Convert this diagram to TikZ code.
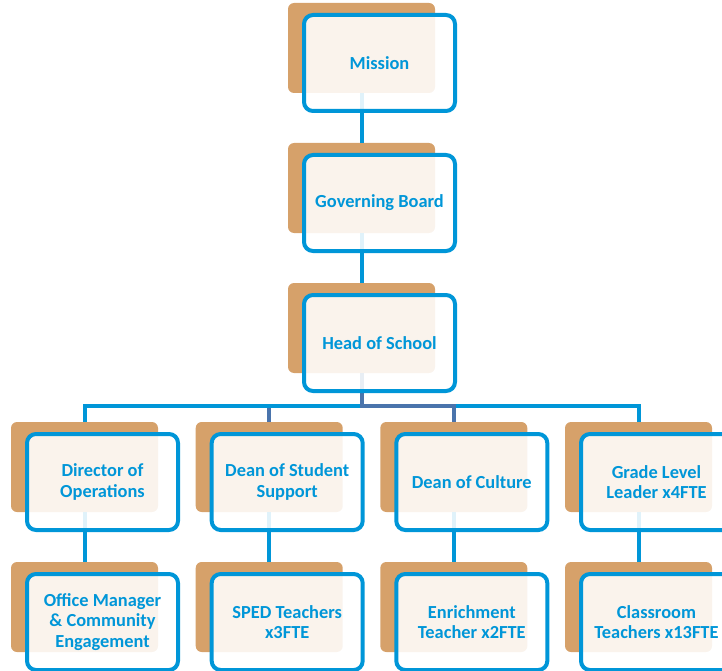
\documentclass[tikz,border=0pt]{standalone}
\usepackage{fontspec}
\setmainfont{Carlito}
\usetikzlibrary{positioning}

\definecolor{orgblue}{RGB}{0,150,216}
\definecolor{orgslate}{RGB}{74,116,172}
\definecolor{orgtan}{RGB}{214,161,106}

\begin{document}
\begin{tikzpicture}[x=1pt,y=-1pt,
  font=\bfseries\fontsize{18.4}{20.5}\selectfont,
  back/.style={fill=orgtan,rounded corners=6pt,inner sep=0pt,
    minimum width=147pt,minimum height=90pt},
  card/.style={draw=orgblue,line width=4pt,fill=white,fill opacity=0.88,
    text opacity=1,text=orgblue,rounded corners=9pt,inner sep=0pt,
    minimum width=151pt,minimum height=96pt,align=center},
  link/.style={line width=4pt,orgblue},
  sublink/.style={line width=4pt,orgslate},
]

\path[use as bounding box,clip] (0,0) rectangle (722,671);

\def\dx{18}
\def\dy{15}

% ------------------------------------------------------------------
% back plates
% ------------------------------------------------------------------
\node[back] (missionbk) at (361.5,48) {};
\node[back] (boardbk)   at (361.5,188) {};
\node[back] (headbk)    at (361.5,328) {};

\node[back] (opsbk)     at (84.5,467) {};
\node[back] (deanssbk)  at (269.2,467) {};
\node[back] (deancbk)   at (453.8,467) {};
\node[back] (gradebk)   at (638.5,467) {};

\node[back] (officebk)  at (84.5,607) {};
\node[back] (spedbk)    at (269.2,607) {};
\node[back] (enrichbk)  at (453.8,607) {};
\node[back] (classbk)   at (638.5,607) {};

% ------------------------------------------------------------------
% connectors
% ------------------------------------------------------------------
\coordinate (bus) at (361.5,405.5);

\draw[link] (missionbk.south) -- (boardbk.north);
\draw[link] (boardbk.south) -- (headbk.north);

\draw[sublink] (headbk.south) |- (bus) -| (deanssbk.north);
\draw[link] (headbk.south) |- (bus) -| (opsbk.north);
\draw[link] (headbk.south) |- (bus) -| (gradebk.north);
\draw[sublink] (headbk.south) |- (bus) -| (deancbk.north);

\draw[link] (opsbk.south) -- (officebk.north);
\draw[link] (deanssbk.south) -- (spedbk.north);
\draw[link] (deancbk.south) -- (enrichbk.north);
\draw[link] (gradebk.south) -- (classbk.north);

% ------------------------------------------------------------------
% cards
% ------------------------------------------------------------------
\node[card] (mission) at ([shift={(\dx,\dy)}]missionbk.center) {Mission};
\node[card] (board)   at ([shift={(\dx,\dy)}]boardbk.center) {Governing Board};
\node[card] (head)    at ([shift={(\dx,\dy)}]headbk.center) {Head of School};

\node[card] (ops)     at ([shift={(\dx,\dy)}]opsbk.center) {Director of\\Operations};
\node[card] (deanss)  at ([shift={(\dx,\dy)}]deanssbk.center) {Dean of Student\\Support};
\node[card] (deanc)   at ([shift={(\dx,\dy)}]deancbk.center) {Dean of Culture};
\node[card] (grade)   at ([shift={(\dx,\dy)}]gradebk.center) {Grade Level\\Leader x4FTE};

\node[card] (office)  at ([shift={(\dx,\dy)}]officebk.center) {Office Manager\\\& Community\\Engagement};
\node[card] (sped)    at ([shift={(\dx,\dy)}]spedbk.center) {SPED Teachers\\x3FTE};
\node[card] (enrich)  at ([shift={(\dx,\dy)}]enrichbk.center) {Enrichment\\Teacher x2FTE};
\node[card] (class)   at ([shift={(\dx,\dy)}]classbk.center) {Classroom\\Teachers x13FTE};

\end{tikzpicture}
\end{document}
